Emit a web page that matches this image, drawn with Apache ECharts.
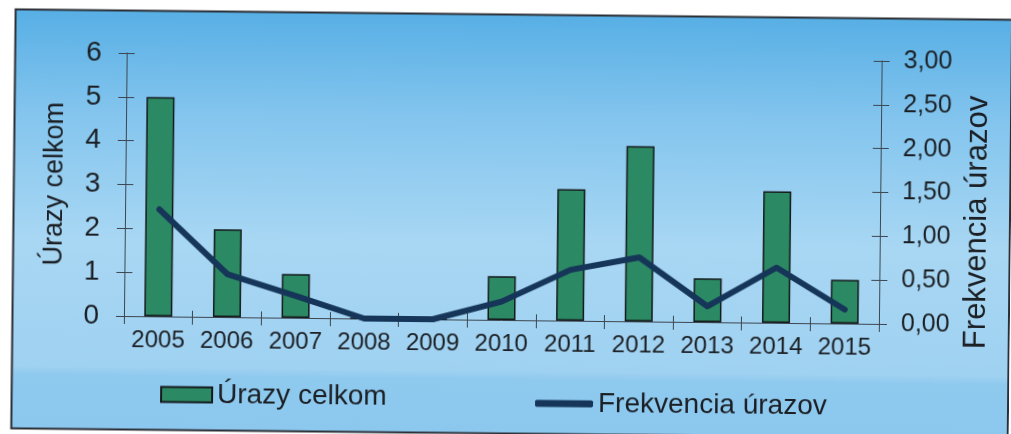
<!DOCTYPE html>
<html>
<head>
<meta charset="utf-8">
<script src="https://cdn.jsdelivr.net/npm/echarts@6/dist/echarts.min.js"></script>
<style>
html,body{margin:0;padding:0;background:#fff;overflow:hidden;}
#c{width:1011px;height:450px;transform:rotate(0.6deg);transform-origin:505px 217px;}
</style>
</head>
<body>
<div id="c"></div>
<script>
const categories = ['2005','2006','2007','2008','2009','2010','2011','2012','2013','2014','2015'];
const urazyCelkom = [5, 2, 1, 0, 0, 1, 3, 4, 1, 3, 1];
const frekvencia = [1.22, 0.49, 0.25, 0, 0, 0.21, 0.58, 0.73, 0.18, 0.63, 0.16];
const leftTicks = [0, 6, 1];      // min, max, interval
const rightTicks = [0, 3, 0.5];   // min, max, interval

const FONT = 'Liberation Sans, Arial, sans-serif';
const TXT = '#1b1f24';
const AX = '#3c4650';

const chart = echarts.init(document.getElementById('c'), null, {renderer: 'canvas'});

const fmtRight = v => v.toFixed(2).replace('.', ',');

chart.setOption({
  animation: false,
  backgroundColor: 'rgba(0,0,0,0)',
  textStyle: {fontFamily: FONT},
  graphic: [{
    type: 'rect',
    z: -10,
    shape: {x: 13.5, y: 14.5, width: 996.5, height: 419},
    style: {
      fill: new echarts.graphic.LinearGradient(0, 0, 0, 1, [
        {offset: 0, color: '#57afe5'},
        {offset: 0.25, color: '#84c5ee'},
        {offset: 0.55, color: '#a8d7f3'},
        {offset: 0.85, color: '#9fd1f1'},
        {offset: 0.87, color: '#8ec9ee'},
        {offset: 1, color: '#8cc7ee'}
      ]),
      stroke: '#2a2e35',
      lineWidth: 2
    }
  }],
  grid: {left: 125, right: 131, top: 57, bottom: 130, containLabel: false},
  legend: [{
    data: [{name: 'Úrazy celkom', icon: 'rect'}],
    left: 162, top: 384, padding: 0,
    itemWidth: 51, itemHeight: 15, itemGap: 10,
    textStyle: {fontSize: 28, color: TXT, fontFamily: FONT},
    selectedMode: false
  }, {
    data: [{name: 'Frekvencia úrazov', icon: 'roundRect'}],
    left: 537, top: 389, padding: 0,
    itemWidth: 58, itemHeight: 7, itemGap: 10,
    textStyle: {fontSize: 28, color: TXT, fontFamily: FONT},
    selectedMode: false
  }],
  xAxis: [{
    type: 'category',
    data: categories,
    boundaryGap: true,
    axisLine: {lineStyle: {color: AX, width: 1}},
    axisTick: {show: true, length: 8, lineStyle: {color: AX}},
    axisLabel: {fontSize: 24, color: TXT, margin: 12, fontFamily: FONT, interval: 0}
  }, {
    type: 'category',
    data: categories,
    position: 'bottom',
    boundaryGap: true,
    axisLine: {show: false},
    axisTick: {show: true, inside: true, length: 6, lineStyle: {color: AX}},
    axisLabel: {show: false}
  }],
  yAxis: [{
    type: 'value',
    position: 'left',
    min: leftTicks[0], max: leftTicks[1], interval: leftTicks[2],
    name: 'Úrazy celkom',
    nameLocation: 'middle',
    nameRotate: 90,
    nameGap: 57,
    nameTextStyle: {fontSize: 27, color: TXT, fontFamily: FONT},
    axisLine: {show: true, lineStyle: {color: AX, width: 1}},
    axisTick: {show: true, length: 8, lineStyle: {color: AX}},
    axisLabel: {fontSize: 28, color: TXT, margin: 25, fontFamily: FONT},
    splitLine: {show: false}
  }, {
    type: 'value',
    position: 'right',
    min: rightTicks[0], max: rightTicks[1], interval: rightTicks[2],
    name: 'Frekvencia úrazov',
    nameLocation: 'middle',
    nameRotate: 90,
    nameGap: 74,
    nameTextStyle: {fontSize: 31, color: TXT, fontFamily: FONT, padding: [0, 58, 0, 0]},
    axisLine: {show: true, lineStyle: {color: AX, width: 1}},
    axisTick: {show: true, length: 8, lineStyle: {color: AX}},
    axisLabel: {fontSize: 25, color: TXT, margin: 22, fontFamily: FONT, formatter: fmtRight},
    splitLine: {show: false}
  }, {
    type: 'value',
    position: 'left',
    min: leftTicks[0], max: leftTicks[1], interval: leftTicks[2],
    axisLine: {show: false},
    axisTick: {show: true, inside: true, length: 8, lineStyle: {color: AX}},
    axisLabel: {show: false},
    splitLine: {show: false}
  }, {
    type: 'value',
    position: 'right',
    min: rightTicks[0], max: rightTicks[1], interval: rightTicks[2],
    axisLine: {show: false},
    axisTick: {show: true, inside: true, length: 8, lineStyle: {color: AX}},
    axisLabel: {show: false},
    splitLine: {show: false}
  }],
  series: [{
    name: 'Úrazy celkom',
    type: 'bar',
    xAxisIndex: 0,
    yAxisIndex: 0,
    data: urazyCelkom,
    barWidth: 28,
    itemStyle: {color: '#2b8a63', borderColor: '#15191c', borderWidth: 1.5}
  }, {
    name: 'Frekvencia úrazov',
    type: 'line',
    xAxisIndex: 0,
    yAxisIndex: 1,
    data: frekvencia,
    showSymbol: false,
    symbol: 'none',
    z: 5,
    itemStyle: {color: '#163659'},
    lineStyle: {color: '#163659', width: 6, cap: 'round', join: 'round'}
  }]
});
</script>
</body>
</html>
